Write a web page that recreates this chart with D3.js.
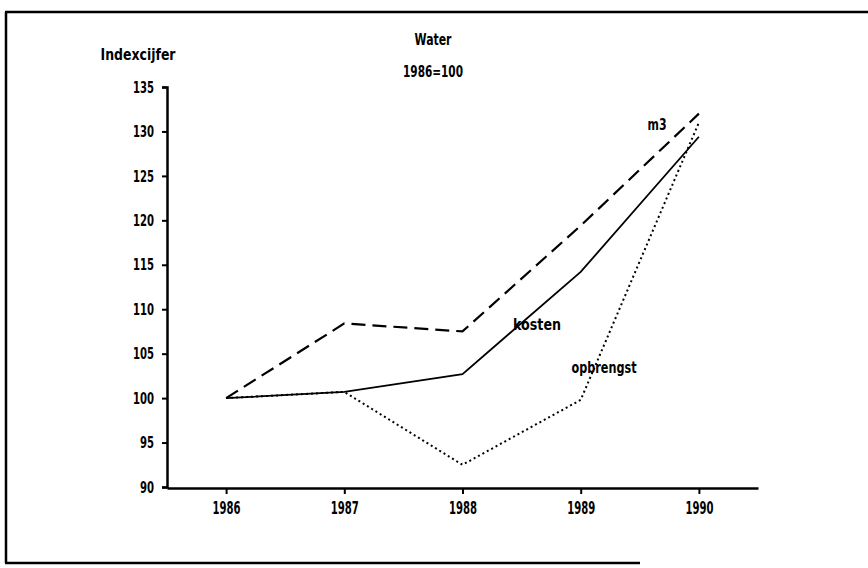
<!DOCTYPE html>
<html>
<head>
<meta charset="utf-8">
<script src="https://cdn.jsdelivr.net/npm/d3@7"></script>
<style>
  body { margin: 0; background: #fff; }
  text { font-family: "DejaVu Sans", sans-serif; font-weight: bold; fill: #000; }
</style>
</head>
<body>
<div id="chart"></div>
<script>
const years = ['1986', '1987', '1988', '1989', '1990'];
const yTicks = [90, 95, 100, 105, 110, 115, 120, 125, 130, 135];
const kosten = [100, 100.7, 102.7, 114.2, 129.4];
const m3 = [100, 108.4, 107.5, 119.4, 132];
const opbrengst = [100, 100.7, 92.5, 99.8, 131];

const width = 868, height = 568;
const svg = d3.select('#chart').append('svg')
    .attr('width', width)
    .attr('height', height);

// squeeze text to the narrow typewriter look of the scan
function narrow(sel, perChar) {
    sel.attr('lengthAdjust', 'spacingAndGlyphs')
        .attr('textLength', function () { return this.textContent.length * perChar; });
}

// scanned frame (top, left, bottom)
svg.append('path')
    .attr('d', 'M5,12 H868 M6,12 V563 M5,563 H640')
    .attr('fill', 'none')
    .attr('stroke', '#000')
    .attr('stroke-width', 2.5);

const x = d3.scalePoint().domain(years).range([167, 758]).padding(0.5);
const y = d3.scaleLinear().domain([90, 135]).range([487, 87]);

// y axis
const yAxis = svg.append('g')
    .attr('transform', 'translate(167,0)')
    .call(d3.axisLeft(y).tickValues(yTicks).tickSize(5).tickPadding(8));
yAxis.select('.domain').attr('stroke-width', 2.5);
yAxis.selectAll('.tick line').attr('stroke-width', 2);
yAxis.selectAll('text').attr('font-size', 16).call(narrow, 7);

// x axis
const xAxis = svg.append('g')
    .attr('transform', 'translate(0,488)')
    .call(d3.axisBottom(x).tickSizeInner(6).tickSizeOuter(0).tickPadding(8));
xAxis.select('.domain').attr('stroke-width', 2.5);
xAxis.selectAll('.tick line').attr('stroke-width', 2);
xAxis.selectAll('text').attr('font-size', 17).call(narrow, 7);

const line = d3.line()
    .x((d, i) => x(years[i]))
    .y(d => y(d));

const series = [
    { values: kosten, dash: null, w: 1.8 },
    { values: m3, dash: '14,7', w: 2.2 },
    { values: opbrengst, dash: '2,3', w: 2 }
];

svg.selectAll('.series')
    .data(series)
    .enter().append('path')
    .attr('class', 'series')
    .attr('d', d => line(d.values))
    .attr('fill', 'none')
    .attr('stroke', '#000')
    .attr('stroke-width', d => d.w)
    .attr('stroke-dasharray', d => d.dash);

// titles and series labels
const labels = [
    { t: 'Water', x: 433, y: 45, w: 37 },
    { t: '1986=100', x: 433, y: 77, w: 60 },
    { t: 'Indexcijfer', x: 138, y: 60, w: 75 },
    { t: 'm3', x: 657, y: 130, w: 19 },
    { t: 'kosten', x: 537, y: 330, w: 48 },
    { t: 'opbrengst', x: 604, y: 373, w: 65 }
];

svg.selectAll('.lbl')
    .data(labels)
    .enter().append('text')
    .attr('class', 'lbl')
    .attr('x', d => d.x)
    .attr('y', d => d.y)
    .attr('text-anchor', 'middle')
    .attr('font-size', 16)
    .attr('lengthAdjust', 'spacingAndGlyphs')
    .attr('textLength', d => d.w)
    .text(d => d.t);
</script>
</body>
</html>
